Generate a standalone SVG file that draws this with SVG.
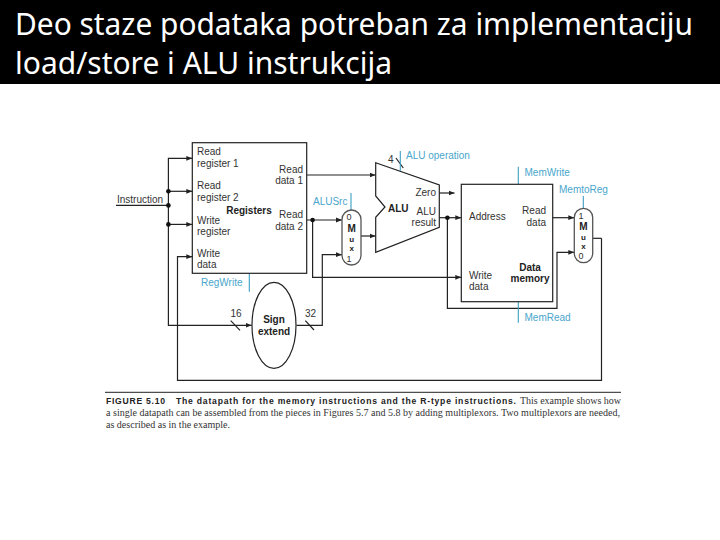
<svg xmlns="http://www.w3.org/2000/svg" width="720" height="540" viewBox="0 0 720 540">
<style>
.w{fill:none;stroke:#222;stroke-width:1.2}
.s{fill:none;stroke:#222;stroke-width:1.2}
.m{fill:#fff;stroke:#555;stroke-width:1.3}
.c{fill:none;stroke:#3d9fc4;stroke-width:1.1}
.t{font-family:"Liberation Sans",Arial,sans-serif;font-size:10px;fill:#333}
.d{font-size:9px}
.b{font-weight:700;fill:#222}
.e{text-anchor:end}
.a{text-anchor:middle}
.l{font-family:"Liberation Sans",Arial,sans-serif;font-size:10px;fill:#4aa6cc}
.h{font-family:"Noto Sans",sans-serif;font-size:30px;fill:#fff}
.f{font-family:"Liberation Serif",serif;font-size:10px;fill:#333}
.g{font-family:"Liberation Sans",Arial,sans-serif;font-weight:700;font-size:8.6px;fill:#222}
</style>
<defs>
<marker id="ar" markerUnits="userSpaceOnUse" markerWidth="7" markerHeight="6" refX="6" refY="3" orient="auto"><path d="M0,0.6L6,3L0,5.4z" fill="#222"/></marker>
</defs>
<rect x="0" y="0" width="720" height="84" fill="#000"/>
<text class="h" x="15" y="34.500" textLength="678" lengthAdjust="spacingAndGlyphs">Deo staze podataka potreban za implementaciju</text>
<text class="h" x="15" y="73.500" textLength="377" lengthAdjust="spacingAndGlyphs">load/store i ALU instrukcija</text>

<g id="connectors">
<path class="w" d="M116,205.4H168.4"/>
<path class="w" marker-end="url(#ar)" d="M168.4,191.3V158.3H192.3"/>
<path class="w" marker-end="url(#ar)" d="M168.4,191.3H192.3"/>
<path class="w" marker-end="url(#ar)" d="M168.4,224.4H192.3"/>
<path class="w" marker-end="url(#ar)" d="M168.4,191.3V325.3H251.7"/>
<path class="w" marker-end="url(#ar)" d="M601.5,238.3V380.3H177.5V256.7H192.3"/>
<path class="w" d="M592.7,238.3H601.5"/>
<path class="w" marker-end="url(#ar)" d="M306.7,175H375.5"/>
<path class="w" marker-end="url(#ar)" d="M306.7,220H342"/>
<path class="w" marker-end="url(#ar)" d="M312.6,220V277.3H461.3"/>
<path class="w" marker-end="url(#ar)" d="M296.5,325.3H322.3V254.7H342"/>
<path class="w" marker-end="url(#ar)" d="M361,236H375.5"/>
<path class="w" marker-end="url(#ar)" d="M439.3,193H454.5"/>
<path class="w" marker-end="url(#ar)" d="M439.3,217.7H461.3"/>
<path class="w" marker-end="url(#ar)" d="M447.4,217.7V308.3H557V252.3H574.3"/>
<path class="w" marker-end="url(#ar)" d="M552.7,217.7H574.3"/>
<path class="w" d="M230.7,320.7L240,330.3M305.3,320.7L314,330"/>
<path class="w" d="M396,158L403.3,168"/>
<path class="c" d="M351,193V210M249.3,273.3V291.7M400.3,151V170.7M518.3,166.7V184.3M583.3,196V208.3M518.3,301.7V322.7"/>
<g fill="#111">
<circle cx="168.4" cy="191.3" r="2.3"/><circle cx="168.4" cy="205.4" r="2.3"/><circle cx="168.4" cy="224.4" r="2.3"/>
<circle cx="312.6" cy="220" r="2.3"/><circle cx="447.4" cy="217.7" r="2.3"/>
</g>
</g>

<text id="instruction" class="t" x="117" y="203">Instruction</text>
<g id="registers">
<rect class="s" x="192.3" y="142.7" width="114.4" height="130.6"/>
<text class="t" x="197" y="154.5">Read</text><text class="t" x="197" y="166.5">register 1</text>
<text class="t" x="197" y="188.5">Read</text><text class="t" x="197" y="201">register 2</text>
<text class="t" x="197" y="223.5">Write</text><text class="t" x="197" y="235">register</text>
<text class="t" x="197" y="256.5">Write</text><text class="t" x="197" y="268">data</text>
<text class="t e" x="303" y="173">Read</text><text class="t e" x="303" y="184">data 1</text>
<text class="t e" x="303" y="218">Read</text><text class="t e" x="303" y="230">data 2</text>
<text class="t b a" x="249" y="214">Registers</text>
</g>
<g id="alusrc-mux">
<rect class="m" x="342" y="210" width="19" height="55" rx="9.5"/>
<text class="t d a" x="349" y="220.3">0</text>
<text class="t b a" x="351.7" y="231.5">M</text>
<text class="t b a" x="351.7" y="241.5" style="font-size:8px">u</text>
<text class="t b a" x="351.7" y="250.5" style="font-size:8px">x</text>
<text class="t d a" x="349" y="262">1</text>
<text class="l" x="313" y="205">ALUSrc</text>
</g>
<g id="alu">
<path class="s" d="M375.7,162.7L439.3,185V227.3L375.7,252.3V217.3L385,207L375.7,196z"/>
<text class="t b" x="388" y="212">ALU</text>
<text class="t e" x="436" y="196">Zero</text>
<text class="t e" x="436" y="215">ALU</text><text class="t e" x="436" y="226">result</text>
<text class="t" x="388" y="163">4</text>
<text class="l" x="406" y="159">ALU operation</text>
</g>
<g id="data-memory">
<rect class="s" x="461.3" y="184.3" width="91.4" height="117.4"/>
<text class="t" x="469" y="220">Address</text>
<text class="t e" x="546" y="214">Read</text><text class="t e" x="546" y="226">data</text>
<text class="t" x="469" y="279">Write</text><text class="t" x="469" y="290">data</text>
<text class="t b a" x="530" y="271">Data</text><text class="t b a" x="530" y="282">memory</text>
<text class="l" x="524.5" y="176">MemWrite</text>
<text class="l" x="524.5" y="321">MemRead</text>
</g>
<g id="memtoreg-mux">
<rect class="m" x="574.3" y="208.3" width="18.4" height="54.4" rx="9.2"/>
<text class="t d a" x="581" y="219">1</text>
<text class="t b a" x="583.5" y="230">M</text>
<text class="t b a" x="583.5" y="240" style="font-size:8px">u</text>
<text class="t b a" x="583.5" y="249" style="font-size:8px">x</text>
<text class="t d a" x="581" y="259">0</text>
<text class="l" x="559" y="193">MemtoReg</text>
</g>
<g id="sign-extend">
<ellipse class="s" cx="274" cy="325.3" rx="22" ry="43"/>
<text class="t b a" x="274" y="323">Sign</text><text class="t b a" x="274" y="335">extend</text>
<text class="t" x="230.5" y="317">16</text>
<text class="t" x="305" y="317">32</text>
<text class="l" x="201" y="286">RegWrite</text>
</g>
<g id="caption">
<path d="M105,392.3H621" stroke="#222" stroke-width="1"/>
<text class="g" x="106" y="404" textLength="59">FIGURE 5.10</text>
<text class="g" x="176" y="404" textLength="340">The datapath for the memory instructions and the R-type instructions.</text>
<text class="f" x="520" y="404" textLength="101">This example shows how</text>
<text class="f" x="106" y="416" textLength="514">a single datapath can be assembled from the pieces in Figures 5.7 and 5.8 by adding multiplexors. Two multiplexors are needed,</text>
<text class="f" x="106" y="428" textLength="124">as described as in the example.</text>
</g>
</svg>
